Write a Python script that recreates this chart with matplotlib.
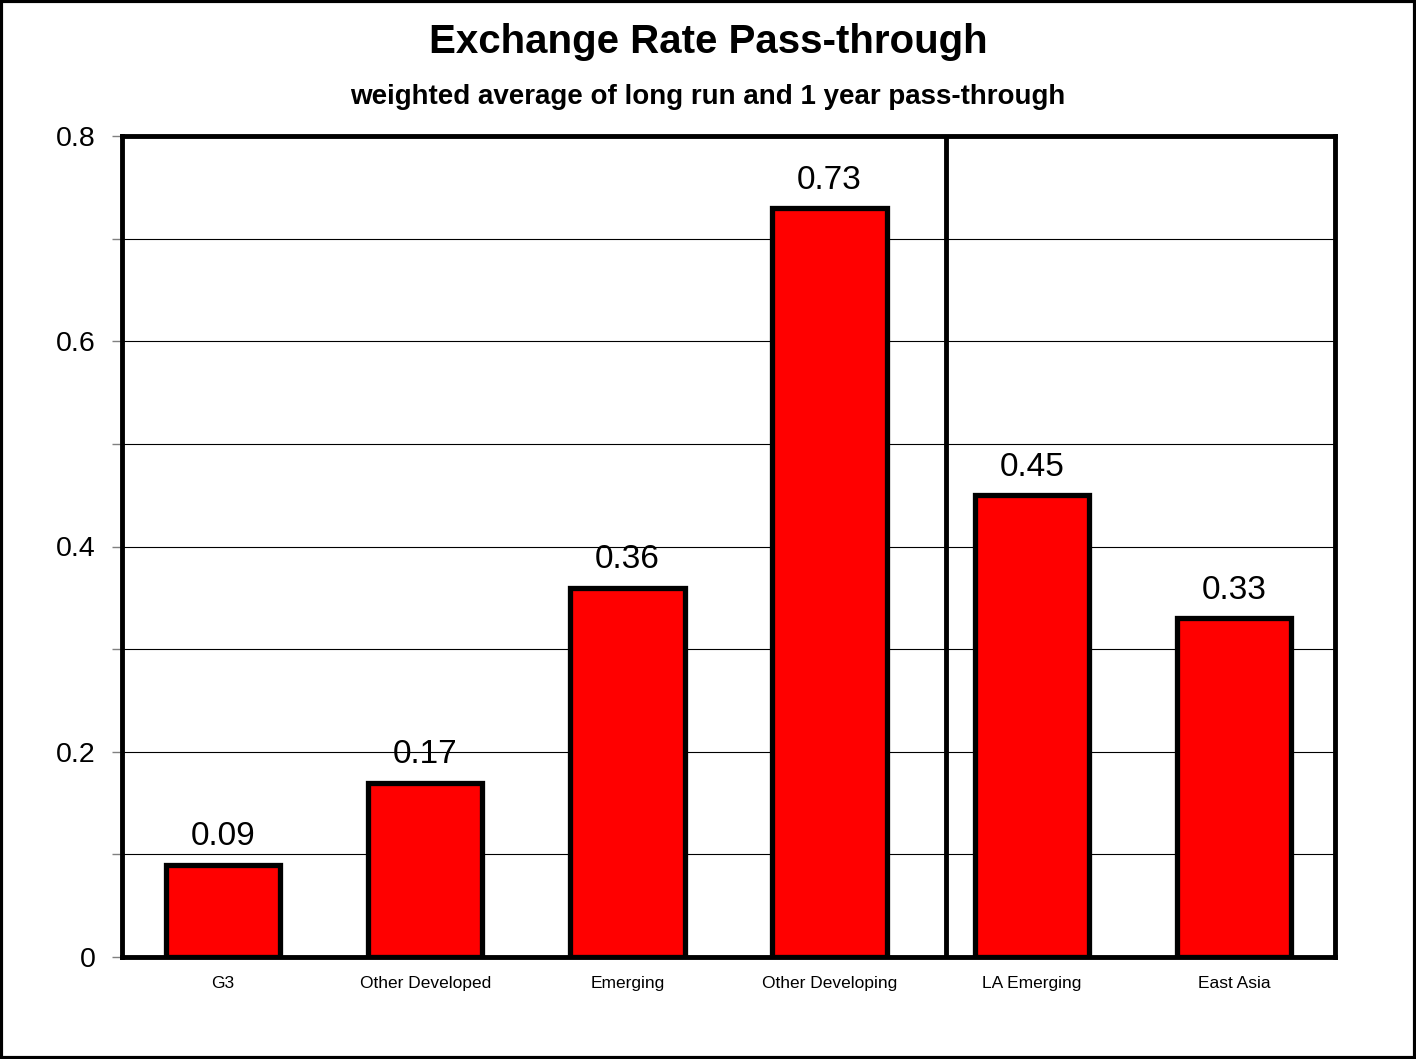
import matplotlib
matplotlib.use("Agg")
import matplotlib.pyplot as plt
from matplotlib.patches import Rectangle

plt.rcParams['font.family'] = ['Liberation Sans', 'DejaVu Sans']

categories = ["G3", "Other Developed", "Emerging", "Other Developing", "LA Emerging", "East Asia"]
values = [0.09, 0.17, 0.36, 0.73, 0.45, 0.33]
value_labels = ["0.09", "0.17", "0.36", "0.73", "0.45", "0.33"]
yticks = [0, 0.2, 0.4, 0.6, 0.8]
ytick_labels = ["0", "0.2", "0.4", "0.6", "0.8"]

fig = plt.figure(figsize=(14.16, 10.59), dpi=100)
ax = fig.add_axes([122/1416, 1 - 957/1059, (1335-122)/1416, (957-136)/1059])

x = list(range(len(categories)))
ax.bar(x, values, width=0.565, color="#FF0000", edgecolor="black", linewidth=3.8, zorder=3)
for xi, v, lab in zip(x, values, value_labels):
    ax.text(xi, v + 0.012, lab, ha="center", va="bottom", fontsize=24, zorder=4)

ax.set_xlim(-0.5, 5.5)
ax.set_ylim(0, 0.8)
ax.set_yticks(yticks)
ax.set_yticklabels(ytick_labels, fontsize=20.5)
ax.set_yticks([0.1, 0.3, 0.5, 0.7], minor=True)
ax.yaxis.grid(True, which="both", color="black", linewidth=0.8, zorder=0)
ax.set_axisbelow(True)
ax.tick_params(axis="y", which="both", length=7, width=1, color="#808080", pad=12)
ax.set_xticks(x)
ax.set_xticklabels(categories, fontsize=12.5)
ax.tick_params(axis="x", length=0, pad=14)
for s in ax.spines.values():
    s.set_linewidth(3.5)
    s.set_color("black")
ax.axvline(3.575, color="black", linewidth=3.5, zorder=5)

fig.text(0.5, 1 - 42/1059, "Exchange Rate Pass-through", ha="center", va="center",
         fontsize=29, fontweight="bold")
fig.text(0.5, 1 - 97/1059, "weighted average of long run and 1 year pass-through", ha="center",
         va="center", fontsize=20, fontweight="bold")

fig.patches.append(Rectangle((0.001, 0.001), 0.998, 0.998, transform=fig.transFigure,
                             fill=False, edgecolor="black", linewidth=3))

fig.savefig("out.png", dpi=100, facecolor="white")
